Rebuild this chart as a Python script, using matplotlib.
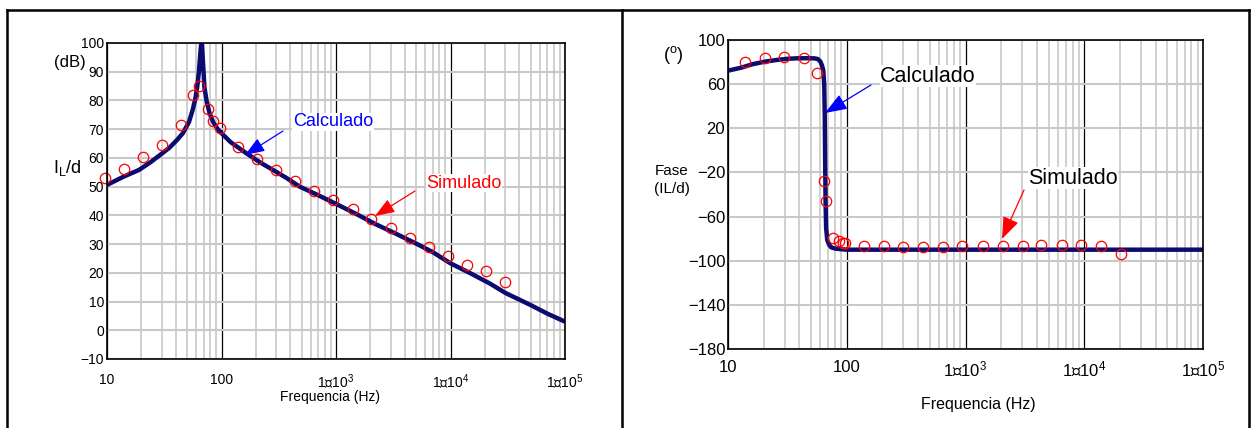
import numpy as np
import matplotlib
matplotlib.use("Agg")
import matplotlib.pyplot as plt
from matplotlib.lines import Line2D

plt.rcParams['font.family'] = ['Liberation Sans', 'DejaVu Sans']
plt.rcParams['mathtext.fontset'] = 'custom'
plt.rcParams['mathtext.rm'] = 'Liberation Sans'
plt.rcParams['mathtext.it'] = 'Liberation Sans:italic'

# magnitude, calculated curve (Hz, dB)
mag_calc_f = [10, 14, 19, 24, 29, 35, 41, 46, 52, 56, 59, 61.5, 63.5, 65.5, 67,
              68.5, 71, 74, 78.7, 85, 92, 100, 120, 165, 220, 282, 370, 482,
              700, 1000, 1500, 2200, 3300, 5000, 7000, 10000, 15000, 22000,
              30500, 50000, 70000, 100000]
mag_calc_db = [50.6, 53.5, 55.8, 58.5, 61, 63.5, 66.3, 68.6, 72.5, 76.7, 80.5, 85, 90,
               97, 101, 95, 84.5, 80, 75.5, 72.3, 70.2, 68.6, 65.5, 61.6, 58.3,
               55.8, 53, 50, 47, 44, 40.5, 37, 33.7, 30.2, 27.2, 23.3, 19.8,
               16.3, 12.9, 8.8, 5.8, 3]

# magnitude, simulated points
mag_sim_f = [9.6, 14, 20.8, 30, 44.3, 56.7, 64, 76.2, 85.1, 96.7, 139, 206, 299,
             442, 642, 942, 1413, 2038, 3033, 4406, 6515, 9460, 13900, 20350,
             30000]
mag_sim_db = [52.9, 56, 60.2, 64.5, 71.4, 81.9, 85.1, 77.1, 72.7, 70.4, 63.9, 59.5,
              55.8, 52.1, 48.6, 45.2, 42.1, 38.8, 35.6, 32, 28.9, 26, 22.7,
              20.7, 16.7]

# phase, calculated curve (Hz, degrees)
ph_calc_f = [10, 13, 16, 20.5, 26, 32, 38, 46, 53, 57, 60, 61.8, 63.4, 64.6,
             65.3, 65.8, 66.3, 67, 68.5, 71, 74, 80, 90, 100, 1000, 10000,
             100000]
ph_calc_deg = [72.2, 75, 78, 80.4, 82, 83, 83.4, 83.5, 83.4, 82.8, 80.4, 77, 72.8,
               60, 30, -10, -45, -70, -81.2, -85.5, -87.9, -89, -89.6, -90,
               -90, -90, -90]

# phase, simulated points
ph_sim_f = [13.8, 20.5, 29.7, 43.9, 56.4, 64.8, 66.4, 76.4, 86.5, 93, 96.5,
            140.5, 207.5, 299, 442, 643, 942, 1405, 2056, 3020, 4350, 6450,
            9420, 13930, 20400]
ph_sim_deg = [80.4, 83.7, 84.9, 83.7, 70.4, -27.5, -45.6, -79.1, -81.9, -83.5,
              -84.2, -86.7, -86.7, -87.9, -87.9, -87.9, -86.7, -86.7, -86.7,
              -86.7, -85.5, -85.5, -85.5, -86.7, -94.2]

x_ticks = [10, 100, 1e3, 1e4, 1e5]
x_labels = ['10', '100', '1\u25af10$^{3}$', '1\u25af10$^{4}$', '1\u25af10$^{5}$']
mag_ticks = list(range(-10, 101, 10))
ph_ticks = [100, 60, 20, -20, -60, -100, -140, -180]

W, H = 1251, 428
navy = '#0b0b70'


def fpos(x, y):
    # image pixels (top-left origin) -> figure fraction
    return x / W, 1 - y / H


def ax_rect(x0, y0, x1, y1):
    return [x0 / W, 1 - y1 / H, (x1 - x0) / W, (y1 - y0) / H]


def style_axes(ax, ticks, ylim, fs, xpad):
    ax.set_xscale('log')
    ax.set_xlim(10, 1e5)
    ax.set_ylim(*ylim)
    ax.set_yticks(ticks)
    ax.set_yticklabels(['%d' % t if t >= 0 else '\u2212%d' % -t for t in ticks])
    ax.set_xticks(x_ticks)
    ax.set_xticklabels(x_labels)
    ax.xaxis.set_minor_locator(matplotlib.ticker.LogLocator(base=10, subs=np.arange(2, 10)))
    ax.xaxis.set_minor_formatter(matplotlib.ticker.NullFormatter())
    ax.tick_params(which='both', length=0)
    ax.tick_params(axis='y', labelsize=fs, pad=2)
    ax.tick_params(axis='x', labelsize=fs, pad=xpad)
    ax.grid(True, which='minor', axis='x', color='#c8c8c8', lw=1.2)
    ax.grid(True, which='major', axis='x', color='black', lw=0.9)
    ax.grid(True, which='major', axis='y', color='#c8c8c8', lw=1.5)
    ax.set_axisbelow(True)
    for s in ax.spines.values():
        s.set_linewidth(1.2)


fig = plt.figure(figsize=(W / 100, H / 100), dpi=100)

# panel frames
for xs in (7, 622, 1249):
    fig.add_artist(Line2D([xs / W, xs / W], [0, 1 - 10 / H], color='black', lw=1.8))
fig.add_artist(Line2D([7 / W, 1249 / W], [1 - 10 / H, 1 - 10 / H], color='black', lw=1.8))

# ---- magnitude ----
ax1 = fig.add_axes(ax_rect(107, 43, 565, 359))
style_axes(ax1, mag_ticks, (-10, 100), 10, 10)
ax1.plot(mag_calc_f, mag_calc_db, color=navy, lw=3.2, solid_capstyle='butt')
ax1.plot(mag_sim_f, mag_sim_db, 'o', mfc='none', mec='red', ms=7.5, mew=0.9,
         clip_on=False)
fig.text(*fpos(330, 397), 'Frequencia (Hz)', ha='center', va='center', fontsize=10)
fig.text(*fpos(70, 63), '(dB)', ha='center', va='center', fontsize=12)
fig.text(*fpos(67, 168), r'I$_\mathrm{L}$/d', ha='center', va='center', fontsize=13)
fig.text(*fpos(333, 122), 'Calculado', ha='center', va='center', fontsize=13,
         color='blue', bbox=dict(fc='white', ec='none', pad=0.5))
fig.text(*fpos(464, 183), 'Simulado', ha='center', va='center', fontsize=13,
         color='red', bbox=dict(fc='white', ec='none', pad=0.5))
ax1.annotate('', xy=(245, H - 155), xytext=(283, H - 131), xycoords='figure pixels',
             arrowprops=dict(arrowstyle='-|>,head_length=0.8,head_width=0.3',
                             color='blue', lw=0.9, mutation_scale=15, shrinkA=0, shrinkB=0))
ax1.annotate('', xy=(375, H - 216), xytext=(415, H - 191), xycoords='figure pixels',
             arrowprops=dict(arrowstyle='-|>,head_length=0.8,head_width=0.3',
                             color='red', lw=0.9, mutation_scale=15, shrinkA=0, shrinkB=0))

# ---- phase ----
ax2 = fig.add_axes(ax_rect(728, 40, 1203, 349))
style_axes(ax2, ph_ticks, (-180, 100), 12, 8)
ax2.plot(ph_calc_f, ph_calc_deg, color=navy, lw=3.2, solid_capstyle='butt')
ax2.plot(ph_sim_f, ph_sim_deg, 'o', mfc='none', mec='red', ms=7.5, mew=0.9,
         clip_on=False)
fig.text(*fpos(978, 405), 'Frequencia (Hz)', ha='center', va='center', fontsize=11.5)
fig.text(*fpos(673, 55), r'($^\mathrm{o}$)', ha='center', va='center', fontsize=13)
fig.text(*fpos(672, 180), 'Fase\n(IL/d)', ha='center', va='center', fontsize=11,
         linespacing=1.3)
fig.text(*fpos(928, 76), 'Calculado', ha='center', va='center', fontsize=15.5,
         color='black', bbox=dict(fc='white', ec='none', pad=0.5))
fig.text(*fpos(1073, 178), 'Simulado', ha='center', va='center', fontsize=15.5,
         color='black', bbox=dict(fc='white', ec='none', pad=0.5))
ax2.annotate('', xy=(825, H - 113), xytext=(871, H - 85), xycoords='figure pixels',
             arrowprops=dict(arrowstyle='-|>,head_length=0.8,head_width=0.3',
                             color='blue', lw=0.9, mutation_scale=17, shrinkA=0, shrinkB=0))
ax2.annotate('', xy=(1002, H - 239), xytext=(1024, H - 190), xycoords='figure pixels',
             arrowprops=dict(arrowstyle='-|>,head_length=0.8,head_width=0.3',
                             color='red', lw=0.9, mutation_scale=17, shrinkA=0, shrinkB=0))

fig.savefig('out.png', dpi=100, facecolor='white')
